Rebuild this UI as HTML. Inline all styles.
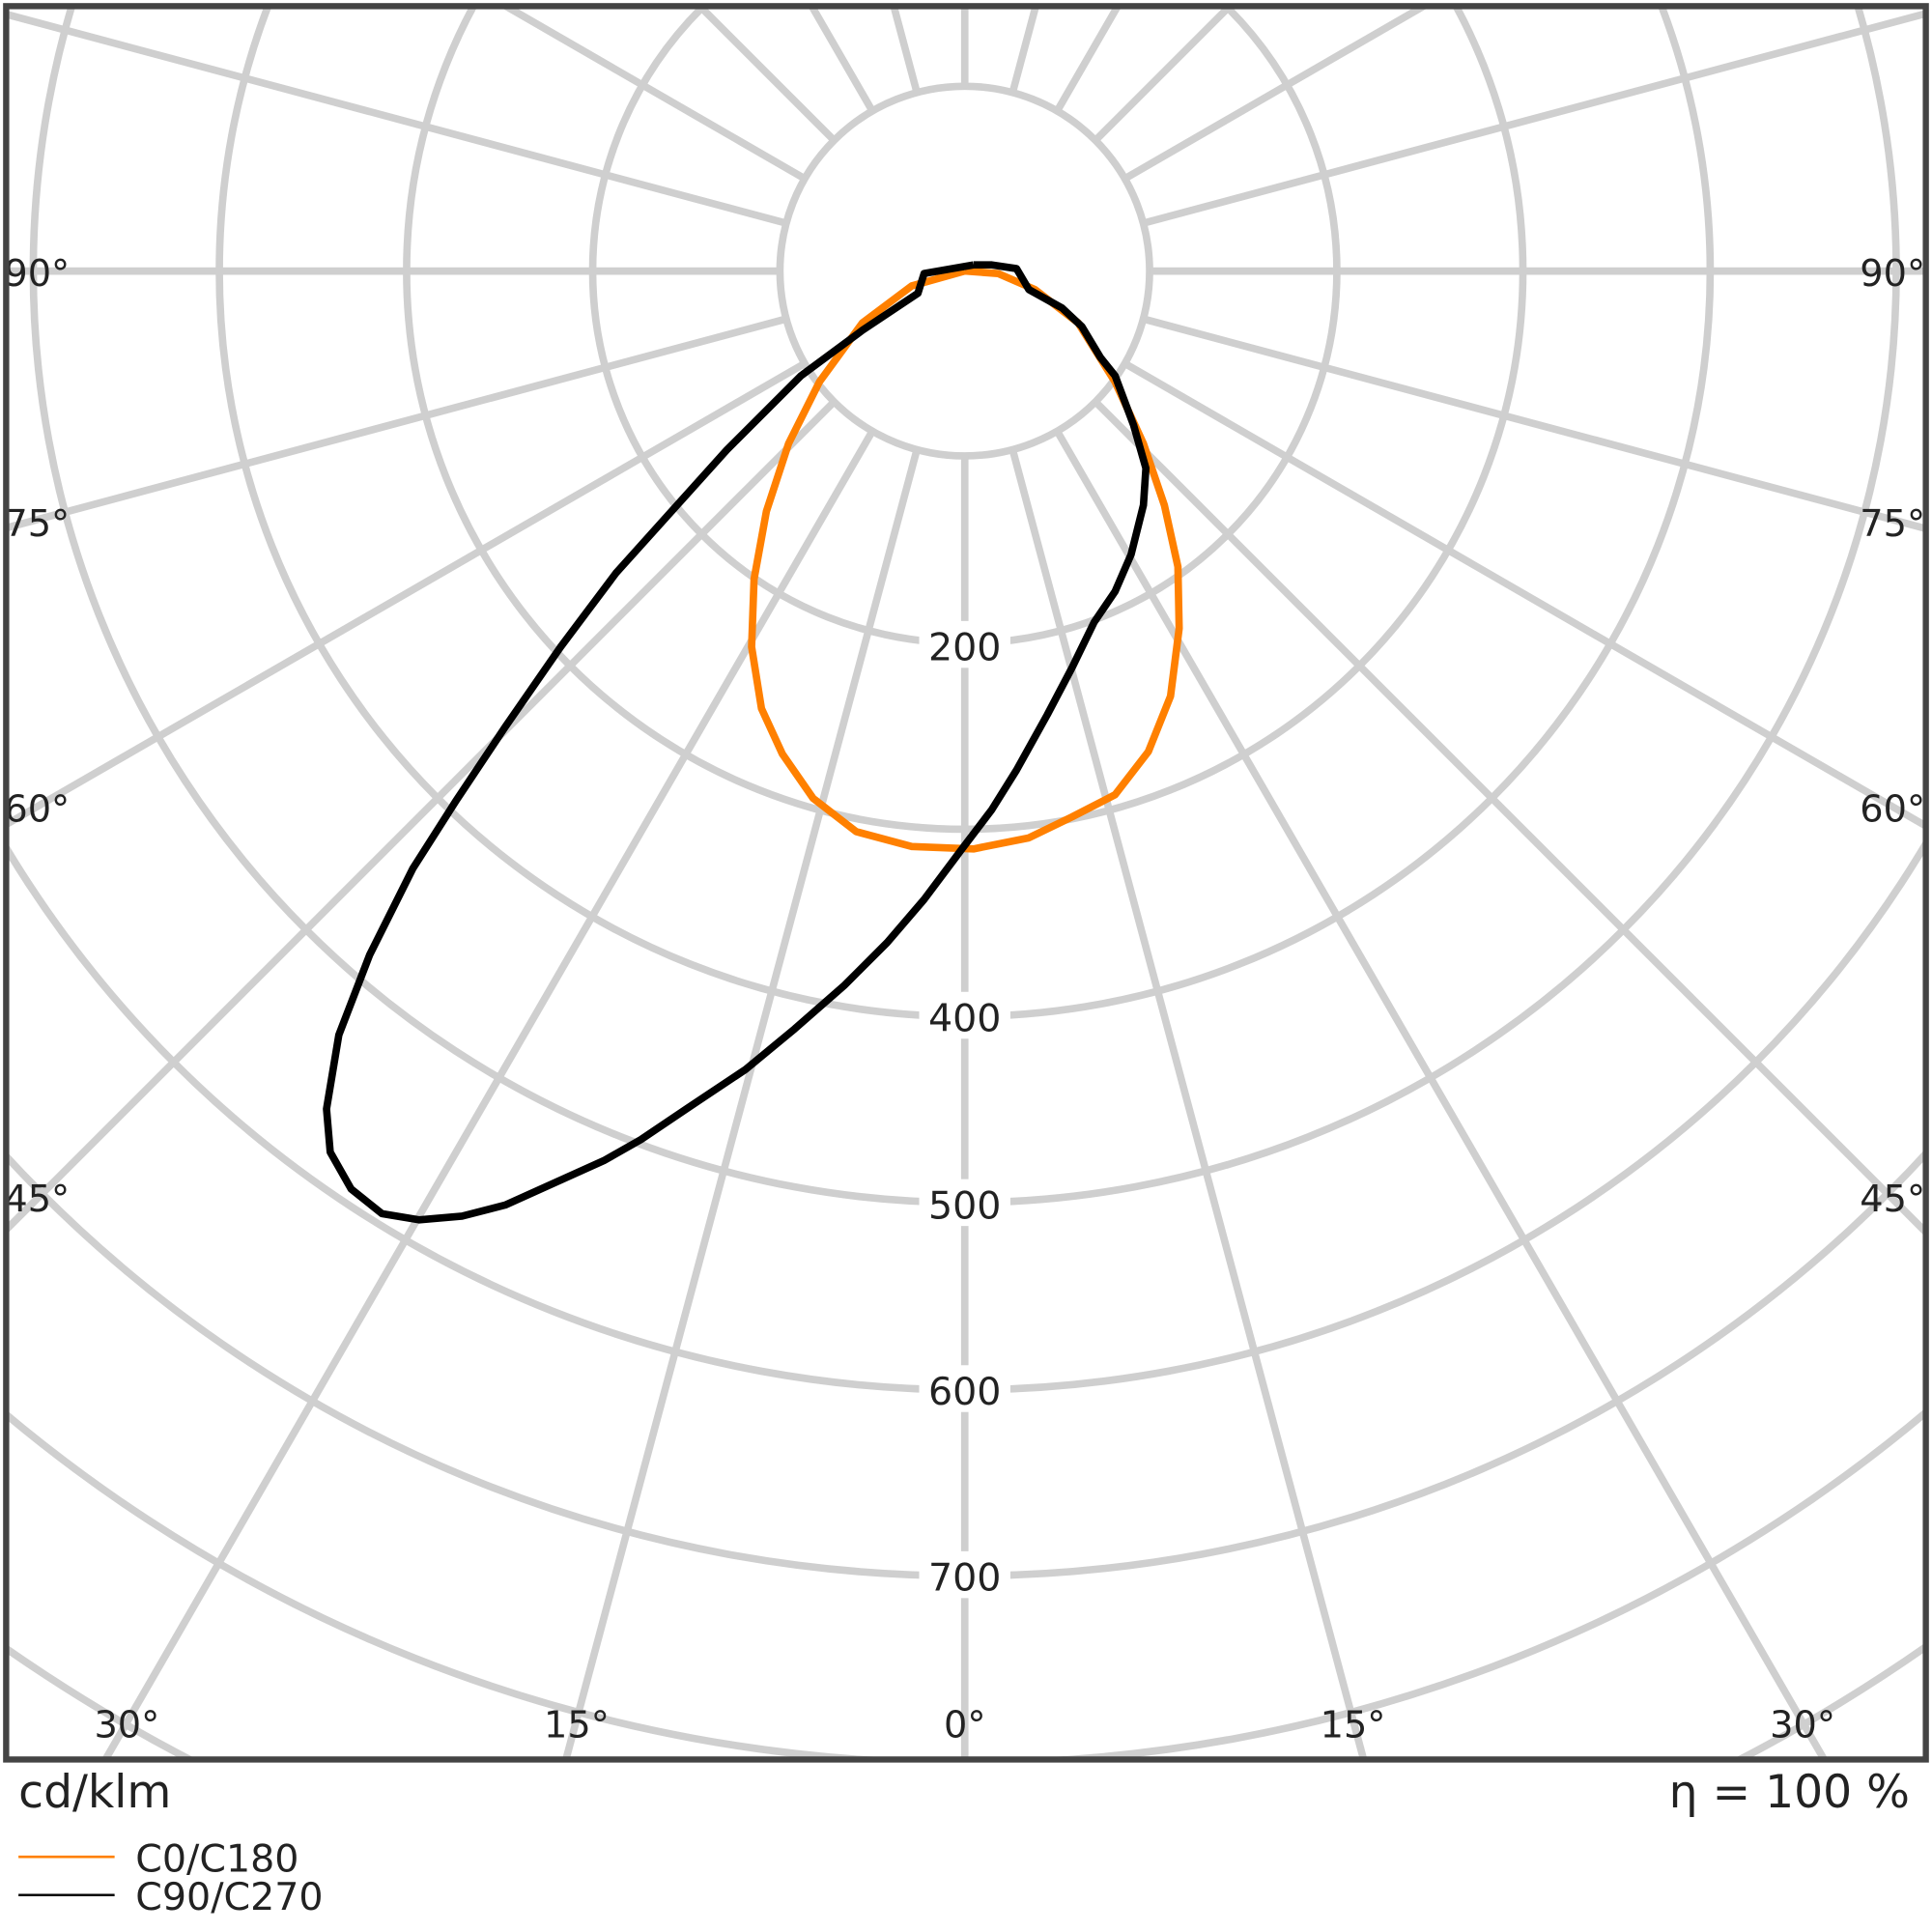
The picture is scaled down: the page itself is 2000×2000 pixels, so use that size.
<!DOCTYPE html>
<html><head><meta charset="utf-8"><style>html,body{margin:0;padding:0;background:#fff;width:2000px;height:2000px;overflow:hidden}#w{position:relative;width:2000px;height:2000px;overflow:hidden}svg{display:block;position:absolute;left:0;top:0}</style></head>
<body><div id="w">
<svg width="2000" height="2000" viewBox="0 0 1568 1568" xmlns="http://www.w3.org/2000/svg" font-family="DejaVu Sans, Liberation Sans, sans-serif" overflow="hidden">
<defs><clipPath id="c"><rect x="5" y="5" width="1558" height="1423"/></clipPath></defs>
<rect width="1568" height="1568" fill="#fff"/>
<g clip-path="url(#c)" stroke="#cfcfcf" stroke-width="6" fill="none">
<circle cx="783" cy="220" r="150"/><circle cx="783" cy="220" r="302"/><circle cx="783" cy="220" r="453"/><circle cx="783" cy="220" r="605"/><circle cx="783" cy="220" r="756"/><circle cx="783" cy="220" r="908"/><circle cx="783" cy="220" r="1059"/><circle cx="783" cy="220" r="1211"/><circle cx="783" cy="220" r="1362"/><circle cx="783" cy="220" r="1514"/>
<line x1="783" y1="370" x2="783" y2="1800"/>
<line x1="783" y1="370" x2="783" y2="1800" transform="rotate(15 783 220)"/>
<line x1="783" y1="370" x2="783" y2="1800" transform="rotate(30 783 220)"/>
<line x1="783" y1="370" x2="783" y2="1800" transform="rotate(45 783 220)"/>
<line x1="783" y1="370" x2="783" y2="1800" transform="rotate(60 783 220)"/>
<line x1="783" y1="370" x2="783" y2="1800" transform="rotate(75 783 220)"/>
<line x1="783" y1="370" x2="783" y2="1800" transform="rotate(90 783 220)"/>
<line x1="783" y1="370" x2="783" y2="1800" transform="rotate(105 783 220)"/>
<line x1="783" y1="370" x2="783" y2="1800" transform="rotate(120 783 220)"/>
<line x1="783" y1="370" x2="783" y2="1800" transform="rotate(135 783 220)"/>
<line x1="783" y1="370" x2="783" y2="1800" transform="rotate(150 783 220)"/>
<line x1="783" y1="370" x2="783" y2="1800" transform="rotate(165 783 220)"/>
<line x1="783" y1="370" x2="783" y2="1800" transform="rotate(180 783 220)"/>
<line x1="783" y1="370" x2="783" y2="1800" transform="rotate(195 783 220)"/>
<line x1="783" y1="370" x2="783" y2="1800" transform="rotate(210 783 220)"/>
<line x1="783" y1="370" x2="783" y2="1800" transform="rotate(225 783 220)"/>
<line x1="783" y1="370" x2="783" y2="1800" transform="rotate(240 783 220)"/>
<line x1="783" y1="370" x2="783" y2="1800" transform="rotate(255 783 220)"/>
<line x1="783" y1="370" x2="783" y2="1800" transform="rotate(270 783 220)"/>
<line x1="783" y1="370" x2="783" y2="1800" transform="rotate(285 783 220)"/>
<line x1="783" y1="370" x2="783" y2="1800" transform="rotate(300 783 220)"/>
<line x1="783" y1="370" x2="783" y2="1800" transform="rotate(315 783 220)"/>
<line x1="783" y1="370" x2="783" y2="1800" transform="rotate(330 783 220)"/>
<line x1="783" y1="370" x2="783" y2="1800" transform="rotate(345 783 220)"/>
</g>
<g font-size="31" fill="#222" text-anchor="middle">
<rect x="746" y="504" width="74" height="38" fill="#fff"/>
<text x="783" y="536">200</text>
<rect x="746" y="805" width="74" height="38" fill="#fff"/>
<text x="783" y="837">400</text>
<rect x="746" y="957" width="74" height="38" fill="#fff"/>
<text x="783" y="989">500</text>
<rect x="746" y="1108" width="74" height="38" fill="#fff"/>
<text x="783" y="1140">600</text>
<rect x="746" y="1259" width="74" height="38" fill="#fff"/>
<text x="783" y="1291">700</text>
<g font-size="30">
<text x="103" y="1410">30°</text><text x="468" y="1410">15°</text><text x="783" y="1410">0°</text><text x="1098" y="1410">15°</text><text x="1463" y="1410">30°</text>
<text x="30" y="232">90°</text><text x="30" y="435">75°</text><text x="30" y="667">60°</text><text x="30" y="983">45°</text>
<text x="1536" y="232">90°</text><text x="1536" y="435">75°</text><text x="1536" y="667">60°</text><text x="1536" y="983">45°</text>
</g>
</g>
<polyline fill="none" stroke="#ff8000" stroke-width="6" stroke-linejoin="round" points="783,220 740,232 700,262 665,310 640,360 622,415 612,470 610,525 618,575 635,612 660,648 695,675 740,687 790,689 835,680 870,663 905,645 932,610 950,565 957,510 956,460 945,410 928,360 905,310 875,262 840,235 810,222 783,220"/>
<polyline fill="none" stroke="#000" stroke-width="6" stroke-linejoin="round" points="790,215 750,222 745,238 700,268 650,305 590,365 545,415 500,465 455,525 410,590 370,650 335,705 300,775 275,840 265,900 268,935 285,965 310,985 340,990 375,987 410,978 450,960 490,942 520,925 560,898 605,868 645,835 685,800 720,765 750,730 780,690 805,657 825,625 850,580 870,542 888,505 905,480 918,450 928,410 930,380 920,345 905,305 893,290 878,265 862,250 835,235 825,218 805,215 790,215"/>
<rect x="5" y="5" width="1558" height="1423" fill="none" stroke="#444" stroke-width="5"/>
<g fill="#222">
<text x="15" y="1467" font-size="37">cd/klm</text>
<text x="1550" y="1467" font-size="37" text-anchor="end">η = 100 %</text>
<line x1="15" y1="1507" x2="93" y2="1507" stroke="#ff8000" stroke-width="2"/>
<line x1="15" y1="1538" x2="93" y2="1538" stroke="#000" stroke-width="2"/>
<text x="110" y="1519" font-size="31">C0/C180</text>
<text x="110" y="1550" font-size="31">C90/C270</text>
</g>
</svg>
</div></body></html>
